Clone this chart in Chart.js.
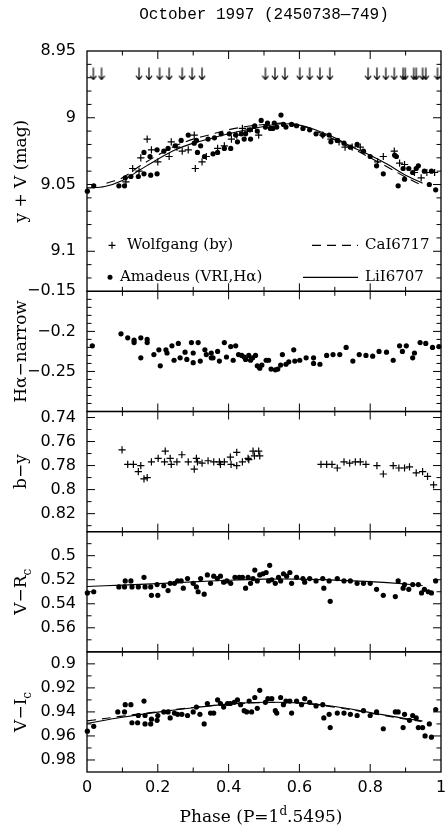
<!DOCTYPE html>
<html>
<head>
<meta charset="utf-8">
<script src="https://cdn.jsdelivr.net/npm/chart.js@4/dist/chart.umd.min.js"></script>
<style>
  html, body { margin: 0; padding: 0; background: #fff; }
  canvas { display: block; }
</style>
</head>
<body>
<canvas id="lc" width="448" height="831"></canvas>
<script>
// ---------- observations, October 1997 (JD 2450738-749), P = 1.5495 d ----------

// spectra epochs (arrows in the top panel)
const ARROW_PHASE = [0.018, 0.041, 0.147, 0.175, 0.205, 0.232, 0.269, 0.297, 0.325,
  0.504, 0.531, 0.559, 0.601, 0.629, 0.658, 0.686,
  0.794, 0.819, 0.844, 0.868, 0.893, 0.899, 0.923, 0.930, 0.948, 0.957, 0.990];
const ARROW_LEVEL = 8.967;

// Amadeus V
const V_PHASE = [0.001, 0.019, 0.090, 0.106, 0.108, 0.124, 0.145, 0.161, 0.161, 0.178,
  0.180, 0.198, 0.198, 0.217, 0.229, 0.249, 0.266, 0.286, 0.303, 0.309,
  0.312, 0.321, 0.332, 0.342, 0.356, 0.360, 0.369, 0.379, 0.388, 0.402,
  0.406, 0.420, 0.425, 0.436, 0.444, 0.448, 0.460, 0.462, 0.474, 0.481,
  0.492, 0.504, 0.510, 0.518, 0.525, 0.529, 0.536, 0.548, 0.555, 0.562,
  0.578, 0.592, 0.610, 0.629, 0.647, 0.666, 0.684, 0.689, 0.707, 0.726,
  0.744, 0.763, 0.781, 0.800, 0.818, 0.837, 0.869, 0.874, 0.879, 0.893,
  0.897, 0.909, 0.920, 0.930, 0.936, 0.953, 0.967, 0.973, 0.985];
const V_MAG = [9.055, 9.051, 9.051, 9.051, 9.045, 9.044, 9.044, 9.042, 9.026, 9.029,
  9.043, 9.042, 9.024, 9.025, 9.023, 9.021, 9.017, 9.013, 9.019, 9.017,
  9.026, 9.021, 9.029, 9.016, 9.027, 9.015, 9.026, 9.012, 9.023, 9.012,
  9.023, 9.013, 9.018, 9.012, 9.016, 9.012, 9.009, 9.016, 9.006, 9.010,
  9.002, 9.007, 9.004, 9.008, 9.008, 9.004, 9.007, 8.998, 9.005, 9.007,
  9.005, 9.006, 9.008, 9.009, 9.012, 9.013, 9.013, 9.018, 9.017, 9.019,
  9.022, 9.020, 9.025, 9.029, 9.036, 9.042, 9.028, 9.029, 9.051, 9.038,
  9.046, 9.038, 9.041, 9.038, 9.036, 9.040, 9.050, 9.040, 9.054];

// Wolfgang y
const Y_PHASE = [0.110, 0.129, 0.147, 0.152, 0.170, 0.182, 0.200, 0.232, 0.238, 0.254,
  0.269, 0.286, 0.303, 0.306, 0.325, 0.337, 0.369, 0.388, 0.408, 0.423,
  0.439, 0.453, 0.467, 0.485, 0.666, 0.689, 0.712, 0.729, 0.749, 0.772,
  0.821, 0.837, 0.868, 0.883, 0.897, 0.925, 0.944, 0.960, 0.982];
const Y_MAG = [9.048, 9.038, 9.040, 9.030, 9.016, 9.024, 9.033, 9.029, 9.018, 9.022,
  9.025, 9.024, 9.013, 9.038, 9.033, 9.029, 9.023, 9.021, 9.016, 9.013,
  9.008, 9.010, 9.008, 9.013, 9.013, 9.016, 9.018, 9.022, 9.022, 9.022,
  9.033, 9.029, 9.025, 9.034, 9.035, 9.041, 9.045, 9.041, 9.041];

// equivalent-width curves scaled to V
const LI_PHASE = [0, 0.05, 0.1, 0.15, 0.2, 0.25, 0.3, 0.35, 0.4, 0.45,
  0.5, 0.55, 0.6, 0.65, 0.7, 0.75, 0.8, 0.85, 0.9, 0.948];
const LI_V = [9.0525, 9.0515, 9.047, 9.039, 9.031, 9.024, 9.019, 9.0155, 9.012, 9.009,
  9.0065, 9.0045, 9.0055, 9.0095, 9.015, 9.022, 9.028, 9.035, 9.043, 9.049];
const CA_PHASE = [0.055, 0.1, 0.15, 0.2, 0.25, 0.3, 0.35, 0.4, 0.45, 0.5,
  0.55, 0.6, 0.65, 0.7, 0.75, 0.8, 0.85, 0.9, 0.945];
const CA_V = [9.049, 9.045, 9.036, 9.028, 9.021, 9.016, 9.0125, 9.009, 9.0065, 9.005,
  9.004, 9.0055, 9.0105, 9.0165, 9.023, 9.030, 9.037, 9.0445, 9.0505];

// H-alpha narrow-band index
const HA_PHASE = [0.015, 0.096, 0.115, 0.133, 0.133, 0.152, 0.152, 0.170, 0.170, 0.189,
  0.203, 0.207, 0.223, 0.226, 0.240, 0.246, 0.258, 0.263, 0.277, 0.282,
  0.295, 0.300, 0.300, 0.314, 0.320, 0.333, 0.337, 0.351, 0.351, 0.356,
  0.369, 0.374, 0.388, 0.394, 0.406, 0.413, 0.420, 0.428, 0.437, 0.444,
  0.448, 0.457, 0.462, 0.468, 0.476, 0.481, 0.488, 0.494, 0.506, 0.513,
  0.520, 0.532, 0.539, 0.547, 0.552, 0.562, 0.570, 0.584, 0.587, 0.601,
  0.619, 0.640, 0.640, 0.658, 0.677, 0.695, 0.714, 0.732, 0.751, 0.769,
  0.788, 0.807, 0.825, 0.846, 0.865, 0.883, 0.891, 0.902, 0.920, 0.925,
  0.941, 0.957, 0.976, 0.994];
const HA_VAL = [-0.218, -0.203, -0.208, -0.211, -0.214, -0.208, -0.233, -0.210, -0.214, -0.229,
  -0.223, -0.243, -0.223, -0.227, -0.218, -0.236, -0.215, -0.233, -0.226, -0.235,
  -0.214, -0.227, -0.239, -0.214, -0.237, -0.223, -0.229, -0.227, -0.233, -0.233,
  -0.225, -0.237, -0.214, -0.232, -0.219, -0.236, -0.218, -0.229, -0.230, -0.232,
  -0.235, -0.230, -0.236, -0.233, -0.230, -0.243, -0.246, -0.242, -0.236, -0.236,
  -0.247, -0.248, -0.247, -0.242, -0.229, -0.241, -0.238, -0.223, -0.237, -0.236,
  -0.233, -0.233, -0.240, -0.241, -0.230, -0.229, -0.229, -0.220, -0.237, -0.229,
  -0.230, -0.231, -0.225, -0.226, -0.236, -0.218, -0.225, -0.218, -0.233, -0.227,
  -0.214, -0.215, -0.220, -0.219];

// b-y (Wolfgang)
const BY_PHASE = [0.099, 0.115, 0.131, 0.145, 0.152, 0.161, 0.170, 0.182, 0.201, 0.219,
  0.221, 0.235, 0.238, 0.254, 0.268, 0.286, 0.303, 0.309, 0.312, 0.325,
  0.342, 0.358, 0.374, 0.377, 0.388, 0.405, 0.407, 0.423, 0.423, 0.439,
  0.455, 0.457, 0.469, 0.473, 0.485, 0.488,
  0.661, 0.677, 0.692, 0.707, 0.726, 0.742, 0.758, 0.772, 0.788, 0.819,
  0.837, 0.865, 0.881, 0.897, 0.911, 0.930, 0.948, 0.962, 0.979];
const BY_VAL = [0.767, 0.779, 0.779, 0.785, 0.780, 0.791, 0.790, 0.777, 0.774, 0.777,
  0.768, 0.774, 0.779, 0.777, 0.771, 0.777, 0.783, 0.774, 0.777, 0.778,
  0.776, 0.777, 0.777, 0.779, 0.777, 0.773, 0.779, 0.769, 0.780, 0.777,
  0.774, 0.775, 0.768, 0.772, 0.768, 0.772,
  0.779, 0.779, 0.779, 0.782, 0.777, 0.778, 0.777, 0.777, 0.779, 0.780,
  0.787, 0.780, 0.782, 0.782, 0.781, 0.786, 0.785, 0.789, 0.796];

// V-Rc (Amadeus)
const VR_PHASE = [0.001, 0.019, 0.090, 0.106, 0.108, 0.124, 0.127, 0.145, 0.161, 0.164,
  0.180, 0.182, 0.198, 0.200, 0.217, 0.229, 0.235, 0.247, 0.256, 0.266,
  0.272, 0.284, 0.300, 0.309, 0.314, 0.321, 0.331, 0.340, 0.349, 0.358,
  0.368, 0.377, 0.386, 0.395, 0.406, 0.418, 0.430, 0.439, 0.448, 0.455,
  0.462, 0.469, 0.474, 0.481, 0.488, 0.497, 0.506, 0.513, 0.516, 0.522,
  0.532, 0.541, 0.547, 0.555, 0.564, 0.573, 0.578, 0.592, 0.610, 0.615,
  0.629, 0.647, 0.666, 0.669, 0.684, 0.687, 0.707, 0.726, 0.744, 0.763,
  0.781, 0.800, 0.818, 0.837, 0.871, 0.879, 0.893, 0.897, 0.909, 0.920,
  0.936, 0.945, 0.953, 0.964, 0.973, 0.985];
const VR_VAL = [0.531, 0.530, 0.526, 0.526, 0.521, 0.521, 0.526, 0.526, 0.518, 0.526,
  0.526, 0.533, 0.524, 0.533, 0.525, 0.529, 0.523, 0.523, 0.521, 0.521,
  0.527, 0.519, 0.523, 0.526, 0.530, 0.519, 0.532, 0.516, 0.523, 0.517,
  0.519, 0.517, 0.522, 0.521, 0.523, 0.518, 0.518, 0.518, 0.527, 0.518,
  0.523, 0.519, 0.512, 0.521, 0.516, 0.515, 0.514, 0.521, 0.508, 0.520,
  0.523, 0.518, 0.521, 0.515, 0.517, 0.514, 0.523, 0.518, 0.519, 0.522,
  0.519, 0.521, 0.519, 0.527, 0.521, 0.538, 0.519, 0.521, 0.521, 0.523,
  0.523, 0.523, 0.528, 0.533, 0.534, 0.521, 0.527, 0.524, 0.528, 0.524,
  0.524, 0.531, 0.528, 0.530, 0.531, 0.521];
const VR_FIT_PHASE = [0, 0.1, 0.2, 0.3, 0.4, 0.5, 0.6, 0.7, 0.8, 0.9, 0.948];
const VR_FIT = [0.5256, 0.5245, 0.5232, 0.5218, 0.5204, 0.5195, 0.5195, 0.5203, 0.5216, 0.5235, 0.5248];

// V-Ic (Amadeus)
const VI_PHASE = [0.001, 0.019, 0.087, 0.106, 0.108, 0.124, 0.127, 0.143, 0.145, 0.161,
  0.164, 0.164, 0.180, 0.182, 0.198, 0.200, 0.217, 0.229, 0.235, 0.247,
  0.256, 0.268, 0.284, 0.300, 0.309, 0.319, 0.331, 0.340, 0.349, 0.358,
  0.369, 0.377, 0.386, 0.397, 0.405, 0.416, 0.425, 0.434, 0.444, 0.451,
  0.458, 0.465, 0.474, 0.481, 0.488, 0.504, 0.511, 0.522, 0.532, 0.536,
  0.547, 0.555, 0.562, 0.573, 0.578, 0.592, 0.606, 0.615, 0.629, 0.647,
  0.666, 0.669, 0.684, 0.687, 0.707, 0.726, 0.744, 0.763, 0.781, 0.800,
  0.818, 0.837, 0.871, 0.879, 0.893, 0.897, 0.911, 0.920, 0.930, 0.936,
  0.948, 0.955, 0.967, 0.973, 0.985];
const VI_VAL = [0.956, 0.952, 0.940, 0.940, 0.934, 0.934, 0.949, 0.949, 0.943, 0.931,
  0.950, 0.943, 0.950, 0.946, 0.947, 0.943, 0.940, 0.940, 0.945, 0.941,
  0.942, 0.942, 0.943, 0.940, 0.936, 0.942, 0.950, 0.933, 0.941, 0.941,
  0.930, 0.933, 0.936, 0.933, 0.933, 0.932, 0.930, 0.934, 0.939, 0.940,
  0.931, 0.940, 0.928, 0.937, 0.922, 0.932, 0.929, 0.929, 0.939, 0.941,
  0.928, 0.934, 0.931, 0.931, 0.941, 0.931, 0.934, 0.929, 0.932, 0.935,
  0.934, 0.945, 0.942, 0.953, 0.941, 0.941, 0.942, 0.943, 0.939, 0.943,
  0.940, 0.954, 0.940, 0.940, 0.953, 0.942, 0.947, 0.943, 0.945, 0.953,
  0.953, 0.960, 0.950, 0.961, 0.938];
const VI_LI_PHASE = [0, 0.1, 0.2, 0.3, 0.4, 0.5, 0.6, 0.7, 0.8, 0.9, 0.948];
const VI_LI = [0.9494, 0.9445, 0.9402, 0.9365, 0.9335, 0.932, 0.9325, 0.9355, 0.9405, 0.9455, 0.9475];
const VI_CA_PHASE = [0, 0.1, 0.2, 0.3, 0.4, 0.5, 0.6, 0.7, 0.8, 0.9, 0.945];
const VI_CA = [0.9475, 0.9435, 0.9398, 0.9363, 0.9335, 0.9322, 0.9328, 0.936, 0.941, 0.946, 0.948];

// ---------- axes: tick values and their labels ----------
const PHASE_TICKS = [0, 0.2, 0.4, 0.6, 0.8, 1];
const PHASE_LABELS = ['0', '0.2', '0.4', '0.6', '0.8', '1'];
const V_TICKS = [8.95, 9, 9.05, 9.1];
const V_LABELS = ['8.95', '9', '9.05', '9.1'];
const HA_TICKS = [-0.15, -0.2, -0.25];
const HA_LABELS = ['\u22120.15', '\u22120.2', '\u22120.25'];
const BY_TICKS = [0.74, 0.76, 0.78, 0.8, 0.82];
const BY_LABELS = ['0.74', '0.76', '0.78', '0.8', '0.82'];
const VR_TICKS = [0.5, 0.52, 0.54, 0.56];
const VR_LABELS = ['0.5', '0.52', '0.54', '0.56'];
const VI_TICKS = [0.9, 0.92, 0.94, 0.96, 0.98];
const VI_LABELS = ['0.9', '0.92', '0.94', '0.96', '0.98'];

// ---------- drawing ----------
const INK = '#000';
const TICK_FONT = { family: 'DejaVu Sans', size: 16 };
const SERIF = '"DejaVu Serif", serif';

const pts = (xs, ys) => xs.map((x, i) => ({ x, y: ys[i] }));
const flat = (xs, v) => xs.map(x => ({ x, y: v }));

function arrowGlyph() {
  const c = document.createElement('canvas');
  c.width = 8; c.height = 13;
  const g = c.getContext('2d');
  g.strokeStyle = INK; g.lineWidth = 1.2;
  g.beginPath();
  g.moveTo(4, 0.5); g.lineTo(4, 12.3);
  g.moveTo(0.9, 8.6); g.lineTo(4, 12.3); g.lineTo(7.1, 8.6);
  g.stroke();
  return c;
}

function panelAxis(min, max, reverse, ticks, labels, weight, stackWeight) {
  return {
    type: 'linear', position: 'left', stack: 'panels', stackWeight, weight,
    min, max, reverse,
    grid: { display: false, drawTicks: false }, border: { display: false },
    ticks: { font: TICK_FONT, color: INK, padding: 11, autoSkip: false,
             callback: (v, i) => labels[i] },
    afterBuildTicks: s => { s.ticks = ticks.map(value => ({ value })); },
    afterFit: s => { s.width = 87; s.paddingTop = 0; s.paddingBottom = 0; }
  };
}

const dots = (id, data) => ({ yAxisID: id, data, pointStyle: 'circle', pointRadius: 2.6,
  backgroundColor: INK, borderColor: INK, borderWidth: 0, showLine: false, clip: 6 });
const crosses = (id, data) => ({ yAxisID: id, data, pointStyle: 'cross', pointRadius: 3.6,
  borderColor: INK, borderWidth: 1.2, showLine: false, clip: 6 });
const curve = (id, data, dash) => ({ yAxisID: id, data, showLine: true, pointRadius: 0,
  borderColor: INK, borderWidth: 1.1, borderDash: dash || [], tension: 0.35, fill: false });

// panel frames, inward ticks, titles and the legend
const PANELS = [
  { id: 'yV', minor: 0.01, title: [['y + V (mag)']] },
  { id: 'yHa', minor: 0.01, title: [['H\u03b1\u2212narrow']] },
  { id: 'yBy', minor: 0.01, title: [['b\u2212y']] },
  { id: 'yVR', minor: 0.01, title: [['V\u2212R'], ['c', 'sub']] },
  { id: 'yVI', minor: 0.01, title: [['V\u2212I'], ['c', 'sub']] }
];

function drawParts(ctx, parts, size, cx, cy, rotate) {
  const small = Math.round(size * 0.72);
  let w = 0;
  for (const [t, k] of parts) {
    ctx.font = (k ? small : size) + 'px ' + SERIF;
    w += ctx.measureText(t).width;
  }
  ctx.save();
  ctx.translate(cx, cy);
  if (rotate) ctx.rotate(-Math.PI / 2);
  ctx.textBaseline = 'alphabetic';
  ctx.textAlign = 'left';
  let x = -w / 2;
  const base = size * 0.36;
  for (const [t, k] of parts) {
    ctx.font = (k ? small : size) + 'px ' + SERIF;
    const dy = k === 'sub' ? size * 0.28 : k === 'sup' ? -size * 0.42 : 0;
    ctx.fillText(t, x, base + dy);
    x += ctx.measureText(t).width;
  }
  ctx.restore();
}

const decor = {
  id: 'decor',
  afterDatasetsDraw(chart) {
    const ctx = chart.ctx;
    const xs = chart.scales.x;
    const L = xs.left, R = xs.right;
    ctx.save();
    ctx.strokeStyle = INK;
    ctx.fillStyle = INK;
    ctx.lineWidth = 1.3;
    for (const p of PANELS) {
      const ys = chart.scales[p.id];
      const T = ys.top, B = ys.bottom;
      ctx.strokeRect(L, T, R - L, B - T);
      ctx.beginPath();
      for (let i = 1; i < 10; i++) {
        const x = xs.getPixelForValue(i / 10);
        const len = i % 2 === 0 ? 8 : 4.5;
        ctx.moveTo(x, T); ctx.lineTo(x, T + len);
        ctx.moveTo(x, B); ctx.lineTo(x, B - len);
      }
      const lo = Math.min(ys.min, ys.max), hi = Math.max(ys.min, ys.max);
      for (let k = Math.ceil(lo / p.minor - 1e-6); k * p.minor <= hi + 1e-9; k++) {
        const v = k * p.minor;
        const major = ys.ticks.some(t => Math.abs(t.value - v) < 1e-6);
        const y = ys.getPixelForValue(v);
        if (Math.abs(y - T) < 1 || Math.abs(y - B) < 1) continue;
        const len = major ? 8 : 4.5;
        ctx.moveTo(L, y); ctx.lineTo(L + len, y);
        ctx.moveTo(R, y); ctx.lineTo(R - len, y);
      }
      ctx.lineWidth = 1;
      ctx.stroke();
      ctx.lineWidth = 1.3;
      drawParts(ctx, p.title, 17, 20, (T + B) / 2, true);
    }

    // chart title and phase axis title
    ctx.font = '16px "Liberation Mono", monospace';
    ctx.textAlign = 'center';
    ctx.textBaseline = 'middle';
    ctx.fillText('October 1997 (2450738\u2014749)', (L + R) / 2, 15);
    drawParts(ctx, [['Phase (P=1'], ['d', 'sup'], ['.5495)']], 17, (L + R) / 2 - 3, 816, false);

    // legend inside the light-curve panel
    const yv = chart.scales.yV;
    const r1 = yv.bottom - 46, r2 = yv.bottom - 14;
    ctx.font = '15px ' + SERIF;
    ctx.textAlign = 'left';
    ctx.textBaseline = 'middle';
    ctx.lineWidth = 1.2;
    ctx.beginPath();
    ctx.moveTo(L + 21.5, r1); ctx.lineTo(L + 28.5, r1);
    ctx.moveTo(L + 25, r1 - 3.5); ctx.lineTo(L + 25, r1 + 3.5);
    ctx.stroke();
    ctx.beginPath(); ctx.arc(L + 23, r2, 2.5, 0, Math.PI * 2); ctx.fill();
    ctx.fillText('Wolfgang (by)', L + 40, r1);
    ctx.fillText('Amadeus (VRI,H\u03b1)', L + 33, r2);
    ctx.lineWidth = 1.1;
    ctx.setLineDash([9, 6]);
    ctx.beginPath(); ctx.moveTo(L + 225, r1); ctx.lineTo(L + 271, r1); ctx.stroke();
    ctx.setLineDash([]);
    ctx.beginPath(); ctx.moveTo(L + 216, r2); ctx.lineTo(L + 271, r2); ctx.stroke();
    ctx.fillText('CaI6717', L + 278, r1);
    ctx.fillText('LiI6707', L + 278, r2);
    ctx.restore();
  }
};

new Chart(document.getElementById('lc'), {
  type: 'scatter',
  data: {
    datasets: [
      { yAxisID: 'yV', data: flat(ARROW_PHASE, ARROW_LEVEL), pointStyle: arrowGlyph(),
        pointRadius: 6, showLine: false, clip: false },
      dots('yV', pts(V_PHASE, V_MAG)),
      crosses('yV', pts(Y_PHASE, Y_MAG)),
      curve('yV', pts(CA_PHASE, CA_V), [9, 6]),
      curve('yV', pts(LI_PHASE, LI_V)),
      dots('yHa', pts(HA_PHASE, HA_VAL)),
      crosses('yBy', pts(BY_PHASE, BY_VAL)),
      dots('yVR', pts(VR_PHASE, VR_VAL)),
      curve('yVR', pts(VR_FIT_PHASE, VR_FIT)),
      dots('yVI', pts(VI_PHASE, VI_VAL)),
      curve('yVI', pts(VI_CA_PHASE, VI_CA), [9, 6]),
      curve('yVI', pts(VI_LI_PHASE, VI_LI))
    ]
  },
  options: {
    responsive: false,
    animation: false,
    devicePixelRatio: 1,
    layout: { padding: { top: 51, right: 1, left: 0, bottom: 0 } },
    plugins: { legend: { display: false }, tooltip: { enabled: false }, title: { display: false } },
    scales: {
      x: {
        type: 'linear', position: 'bottom', min: 0, max: 1,
        grid: { display: false, drawTicks: false }, border: { display: false },
        ticks: { font: TICK_FONT, color: INK, padding: 6, autoSkip: false, maxRotation: 0,
                 callback: (v, i) => PHASE_LABELS[i] },
        afterBuildTicks: s => { s.ticks = PHASE_TICKS.map(value => ({ value })); },
        afterFit: s => { s.height = 59; s.paddingLeft = 0; s.paddingRight = 0; }
      },
      yV: panelAxis(8.95, 9.13, true, V_TICKS, V_LABELS, 5, 2),
      yHa: panelAxis(-0.30, -0.15, false, HA_TICKS, HA_LABELS, 4, 1),
      yBy: panelAxis(0.735, 0.835, true, BY_TICKS, BY_LABELS, 3, 1),
      yVR: panelAxis(0.48, 0.58, true, VR_TICKS, VR_LABELS, 2, 1),
      yVI: panelAxis(0.89, 0.99, true, VI_TICKS, VI_LABELS, 1, 1)
    }
  },
  plugins: [decor]
});
</script>
</body>
</html>
